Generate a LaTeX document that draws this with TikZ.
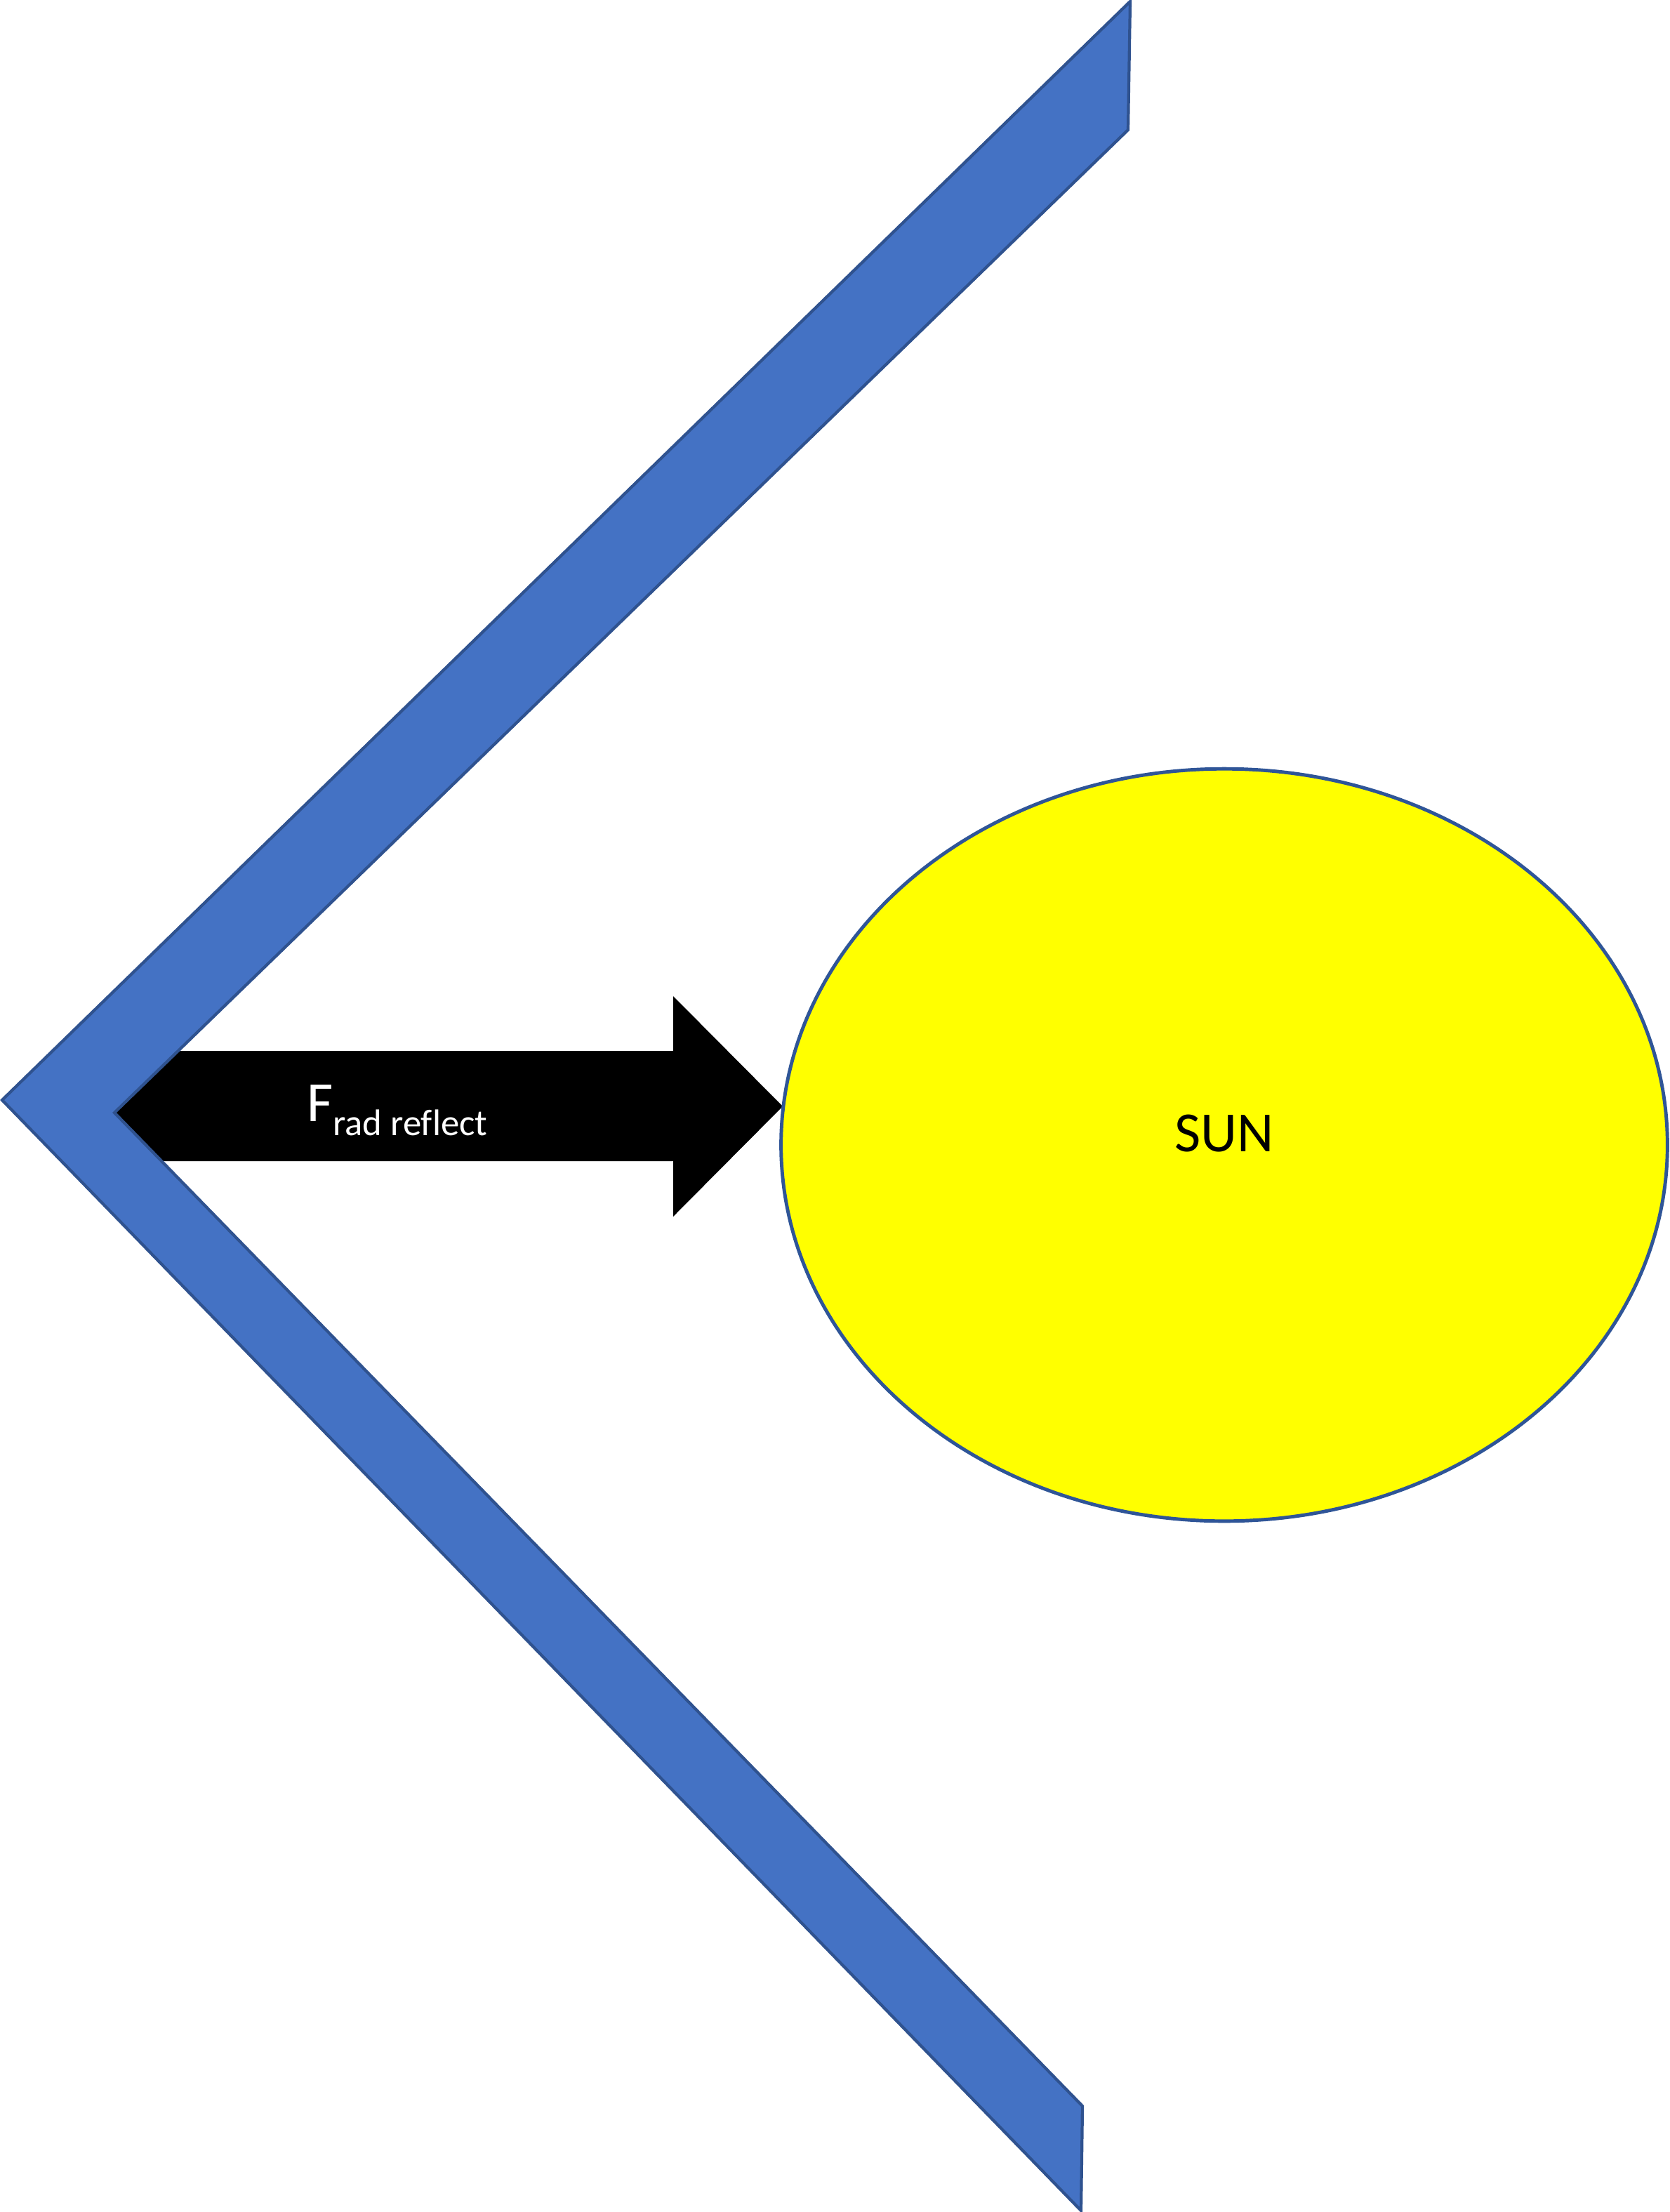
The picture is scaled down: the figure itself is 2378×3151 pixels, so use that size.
\documentclass[tikz,border=0pt]{standalone}
\usepackage{fontspec}
\setmainfont{Carlito}[Ligatures=NoCommon]
\usepackage{xcolor}
\usepackage{tikz}
\usetikzlibrary{shapes.geometric, positioning, calc}

\definecolor{mirrorblue}{HTML}{4472C4}
\definecolor{mirroredge}{HTML}{2F528F}
\definecolor{sunedge}{HTML}{2F5597}
\definecolor{sunyellow}{HTML}{FFFF00}

\begin{document}
\begin{tikzpicture}[
    x=0.01cm, y=-0.01cm,
    mirror/.style={fill=mirrorblue, draw=mirroredge, line width=1.2pt, line join=miter},
    force/.style={fill=black},
    sun/.style={ellipse, draw=sunedge, fill=sunyellow, line width=1.4pt, minimum width=12.62cm, minimum height=10.71cm, inner sep=0pt, outer sep=0pt},
    lbl/.style={inner sep=0pt, outer sep=0pt},
]
\useasboundingbox (0,0) rectangle (2378,3151);

% radiation force arrow (tail hidden behind the mirror)
\coordinate (tail) at (150,1576);
\coordinate (tip) at (1115,1576);
\fill[force] (tail) ++(0,-79) -- (959,1497) -- (959,1419) -- (tip)
    -- (959,1733) -- (959,1654) -- ($(tail)+(0,78)$) -- cycle;

% mirror
\draw[mirror] (1610,2) -- (3,1567) -- (1540,3149) -- (1542,3000)
    -- (163,1585) -- (1607,185) -- cycle;

% sun
\node[sun] (sun) at (1744,1631) {};
\node[lbl, anchor=base, font=\fontsize{23}{28}\selectfont] (sunlabel)
    at ([yshift=-0.09cm]sun.center) {SUN};

% force label
\node[lbl, anchor=base west, text=white] (frad) at (437,1597)
    {{\fontsize{23}{28}\selectfont F}\raisebox{-5.7pt}{\fontsize{15}{18}\selectfont rad reflect}};

\end{tikzpicture}
\end{document}
